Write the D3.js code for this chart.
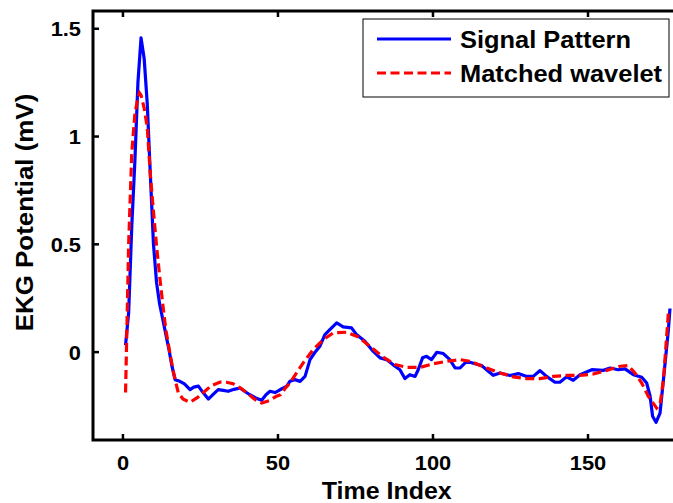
<!DOCTYPE html>
<html>
<head>
<meta charset="utf-8">
<script src="https://cdn.jsdelivr.net/npm/d3@7"></script>
<style>
  body { margin: 0; background: #fff; }
  text { font-family: Arial, "Liberation Sans", sans-serif; font-weight: bold; fill: #000; }
</style>
</head>
<body>
<svg></svg>
<script>
// values
let signalX = [1, 2, 3, 4, 5, 6, 7, 8, 9, 10, 11, 12, 13, 14, 15, 16, 17, 18.5, 20, 21.8, 23, 24.5, 26, 27.7,
  29.5, 30.9, 32.5, 34.1, 36, 37.9, 39.5, 41.1, 43, 44.9, 46.3, 47.6, 49.2, 50.8, 51.9, 53, 54, 55.6, 57.3,
  58.9, 60.5, 62.1, 63.7, 65.3, 66.9, 69.1, 71.2, 73.9, 75.5, 78.2, 80.9, 83.1, 85.2, 87.9, 89.5, 91.1, 92.7,
  94.4, 95.4, 96.8, 98.1, 99.7, 101.4, 103.5, 105.6, 107.3, 108.9, 111, 113.7, 115.9, 118, 119.6, 121.8, 125,
  127.7, 130.4, 132.5, 134.7, 136.8, 139.5, 141.1, 143.3, 145.4, 147.6, 151.4, 155.1, 157.3, 159.9, 162.1,
  164.8, 167.5, 169.1, 170.2, 171, 172.1, 173.4, 174.5, 176.1, 176.6]
let signalY = [0.03, 0.18, 0.58, 0.88, 1.25, 1.455, 1.36, 1.15, 0.82, 0.5, 0.32, 0.22, 0.15, 0.08, 0.01, -0.07,
  -0.13, -0.138, -0.15, -0.176, -0.165, -0.16, -0.19, -0.22, -0.195, -0.176, -0.18, -0.184, -0.175, -0.169,
  -0.185, -0.2, -0.215, -0.226, -0.2, -0.184, -0.19, -0.177, -0.169, -0.16, -0.138, -0.13, -0.138, -0.115,
  -0.037, -0.003, 0.025, 0.079, 0.102, 0.133, 0.115, 0.11, 0.079, 0.048, 0.001, -0.029, -0.037, -0.068,
  -0.084, -0.125, -0.107, -0.115, -0.084, -0.029, -0.022, -0.037, -0.003, -0.009, -0.037, -0.076, -0.076,
  -0.045, -0.056, -0.065, -0.091, -0.11, -0.099, -0.111, -0.102, -0.115, -0.115, -0.088, -0.115, -0.142,
  -0.142, -0.117, -0.133, -0.107, -0.084, -0.087, -0.076, -0.084, -0.08, -0.107, -0.119, -0.146, -0.207,
  -0.3, -0.328, -0.285, -0.13, 0.102, 0.2]

let waveletX = [1, 2, 3, 4, 5, 5.5, 6, 7, 8, 9, 10, 11, 12, 13, 14, 15.3, 16.5, 18, 19.5, 21.8, 24, 26.1, 28.5,
  31.5, 33.5, 35.7, 38, 40.1, 42.5, 44.9, 47.3, 49.7, 51, 52.5, 54, 55.1, 58.3, 61.5, 64.8, 68, 72.3, 76.1,
  79.8, 84.1, 87.9, 91.7, 96, 100.3, 104.6, 108.9, 112.1, 117.5, 121.8, 126.1, 130.4, 134.7, 139, 143.3,
  147.6, 151.9, 156.2, 160.5, 163.2, 165.3, 167.5, 169.6, 172.3, 173.4, 174.5, 176.1]
let waveletY = [-0.19, 0.5, 0.92, 1.1, 1.18, 1.2, 1.19, 1.13, 1.04, 0.82, 0.65, 0.49, 0.35, 0.22, 0.1, -0.006,
  -0.1, -0.19, -0.22, -0.235, -0.215, -0.19, -0.16, -0.141, -0.142, -0.149, -0.168, -0.19, -0.22, -0.238,
  -0.228, -0.207, -0.2, -0.17, -0.146, -0.122, -0.052, 0.009, 0.056, 0.087, 0.09, 0.068, 0.025, -0.025,
  -0.06, -0.073, -0.073, -0.056, -0.045, -0.037, -0.045, -0.076, -0.099, -0.117, -0.125, -0.125, -0.115,
  -0.11, -0.11, -0.104, -0.087, -0.068, -0.065, -0.099, -0.146, -0.207, -0.262, -0.246, -0.13, 0.18]

let xTicks = [0, 50, 100, 150]
let yTicks = [0, 0.5, 1, 1.5]
let seriesNames = ['Signal Pattern', 'Matched wavelet']
let seriesColors = ['#0000ff', '#ff0000']

/*
*  SETUP
*/
let width = 673,
    height = 503,
    plotLeft = 93, plotRight = 680.5, plotTop = 11, plotBottom = 440

let svg = d3.select('svg').attr('width', width).attr('height', height)

let x = d3.scaleLinear().domain([-9.5, 180]).range([plotLeft, plotRight])
let y = d3.scaleLinear().domain([-0.41, 1.58]).range([plotBottom, plotTop])

// text is a bit wider than plain Arial in the picture
let stretch = 'scale(1.04,1)'

/*
*  AXES
*/
let bottomAxis = svg.append('g')
  .attr('transform', `translate(0,${plotBottom})`)
  .call(d3.axisBottom(x).tickValues(xTicks).tickSizeInner(-6).tickSizeOuter(0).tickPadding(0).tickFormat(d => d))
let topAxis = svg.append('g')
  .attr('transform', `translate(0,${plotTop})`)
  .call(d3.axisTop(x).tickValues(xTicks).tickSizeInner(-6).tickSizeOuter(0).tickFormat(''))
let leftAxis = svg.append('g')
  .attr('transform', `translate(${plotLeft},0)`)
  .call(d3.axisLeft(y).tickValues(yTicks).tickSizeInner(-6).tickSizeOuter(0).tickFormat(d => d))
let rightAxis = svg.append('g')
  .attr('transform', `translate(${plotRight},0)`)
  .call(d3.axisRight(y).tickValues(yTicks).tickSizeInner(-6).tickSizeOuter(0).tickFormat(''))

;[bottomAxis, topAxis, leftAxis, rightAxis].forEach(a => {
  a.select('.domain').remove()
  a.selectAll('.tick line').attr('stroke', '#000').attr('stroke-width', 2.5)
})

bottomAxis.selectAll('.tick text')
  .attr('y', 30)
  .attr('dy', null)
  .attr('font-size', 21)
  .attr('transform', stretch)
leftAxis.selectAll('.tick text')
  .attr('x', 0)
  .attr('dy', '0.36em')
  .attr('font-size', 21)
  .attr('transform', 'translate(-12,0) ' + stretch)

// box
svg.append('path')
  .attr('d', `M${plotLeft},${plotTop}H${plotRight}V${plotBottom}H${plotLeft}Z`)
  .attr('fill', 'none')
  .attr('stroke', '#000')
  .attr('stroke-width', 3)

/*
*  LINES
*/
let line = d3.line().x(d => x(d[0])).y(d => y(d[1]))
let signal = signalX.map((v, i) => [v, signalY[i]])
let wavelet = waveletX.map((v, i) => [v, waveletY[i]])

svg.append('path')
  .attr('d', line(signal))
  .attr('fill', 'none')
  .attr('stroke', seriesColors[0])
  .attr('stroke-width', 3.2)
  .attr('stroke-linejoin', 'round')
svg.append('path')
  .attr('d', line(wavelet))
  .attr('fill', 'none')
  .attr('stroke', seriesColors[1])
  .attr('stroke-width', 3.2)
  .attr('stroke-dasharray', '9,4.5')

/*
*  LABELS
*/
svg.append('text')
  .attr('transform', `translate(${(plotLeft + plotRight) / 2},499) ${stretch}`)
  .attr('text-anchor', 'middle')
  .attr('font-size', 24)
  .text('Time Index')
svg.append('text')
  .attr('transform', `translate(33,${(plotTop + plotBottom) / 2 - 13}) rotate(-90) scale(1.08,1)`)
  .attr('text-anchor', 'middle')
  .attr('font-size', 24)
  .text('EKG Potential (mV)')

/*
*  LEGEND
*/
let legend = svg.append('g').attr('class', 'legend')
legend.append('rect')
  .attr('x', 363).attr('y', 19)
  .attr('width', 306).attr('height', 78)
  .attr('fill', '#fff')
  .attr('stroke', '#000')
  .attr('stroke-width', 1)
seriesNames.forEach((name, i) => {
  let ly = 39 + i * 34
  legend.append('line')
    .attr('x1', 377).attr('x2', 451)
    .attr('y1', ly).attr('y2', ly)
    .attr('stroke', seriesColors[i])
    .attr('stroke-width', 3)
    .attr('stroke-dasharray', i ? '9,4.5' : null)
  legend.append('text')
    .attr('transform', `translate(460,${ly + 9}) scale(1.06,1)`)
    .attr('font-size', 24)
    .text(name)
})
</script>
</body>
</html>
